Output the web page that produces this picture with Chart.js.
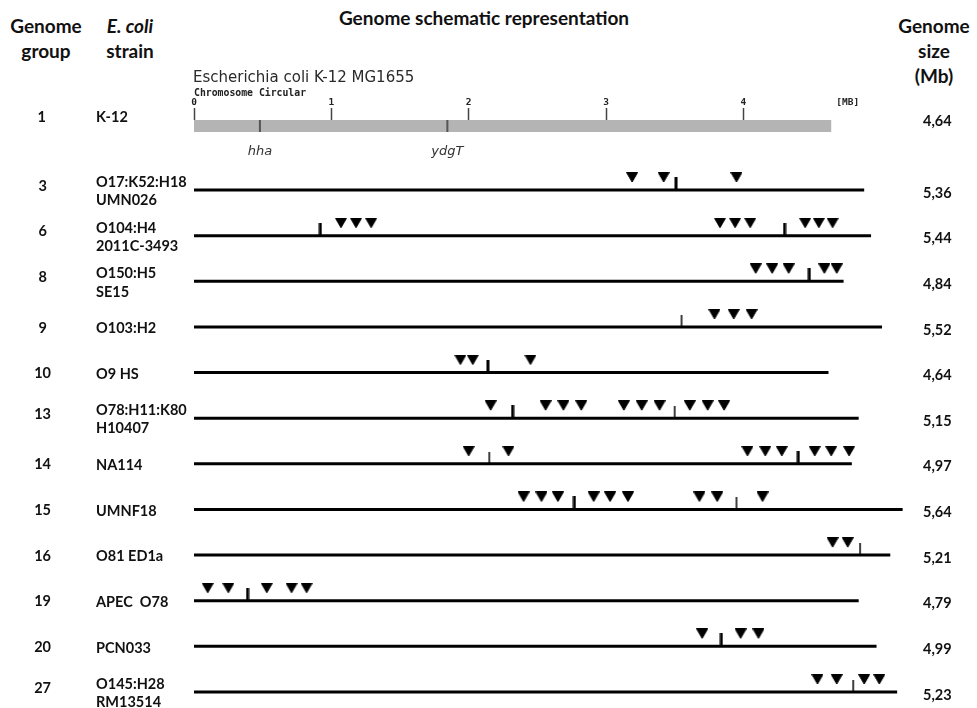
<!DOCTYPE html>
<html><head><meta charset="utf-8">
<script src="https://cdn.jsdelivr.net/npm/chart.js@4.4.1/dist/chart.umd.min.js"></script>
<style>
html,body{margin:0;padding:0;background:#fff;width:977px;height:708px;overflow:hidden;}
#wrap{position:relative;width:977px;height:708px;font-family:Lato,"Open Sans",sans-serif;color:#111;}
.h{position:absolute;font-weight:bold;font-size:19px;text-align:center;line-height:25px;white-space:nowrap;transform:translateX(-50%);}
canvas{position:absolute;left:0;}
</style></head><body>
<div id="wrap">
  <div class="h" style="left:46px;top:13px">Genome<br>group</div>
  <div class="h" style="left:130px;top:13px"><i>E. coli</i><br>strain</div>
  <div class="h" style="left:484px;top:5px">Genome schematic representation</div>
  <div class="h" style="left:934px;top:13px">Genome<br>size<br>(Mb)</div>
  <canvas id="main" width="977" height="708" style="top:0;width:977px;height:708px"></canvas>
  <canvas id="ruler" width="977" height="102" style="top:60px;width:977px;height:102px"></canvas>
</div>
<script>
// ---------- data ----------
const refGroup = '1';
const refStrain = 'K-12';
const refSize = '4,64';
const refLength = 4.64;
const refTitle = 'Escherichia coli K-12 MG1655';
const refSubtitle = 'Chromosome Circular';
const rulerTicks = [0, 1, 2, 3, 4];
const rulerUnit = '[MB]';
const rulerUnitPos = 4.76;
const geneNames = ['hha', 'ydgT'];
const genePos = [0.48, 1.845];

const groups = ['3', '6', '8', '9', '10', '13', '14', '15', '16', '19', '20', '27'];
const strains = [
  ['O17:K52:H18', 'UMN026'], ['O104:H4', '2011C-3493'], ['O150:H5', 'SE15'], 'O103:H2', 'O9 HS',
  ['O78:H11:K80', 'H10407'], 'NA114', 'UMNF18', 'O81 ED1a', 'APEC  O78', 'PCN033', ['O145:H28', 'RM13514']
];
const sizes = ['5,36', '5,44', '4,84', '5,52', '4,64', '5,15', '4,97', '5,64', '5,21', '4,79', '4,99', '5,23'];
const lineLengths = [4.88, 4.93, 4.73, 5.01, 4.62, 4.84, 4.79, 5.16, 5.07, 4.84, 4.97, 5.12];
const triangles = [
  [3.19, 3.42, 3.95],
  [1.07, 1.18, 1.29, 3.83, 3.94, 4.05, 4.45, 4.55, 4.65],
  [4.09, 4.21, 4.33, 4.59, 4.68],
  [3.79, 3.93, 4.06],
  [1.94, 2.03, 2.45],
  [2.16, 2.56, 2.69, 2.82, 3.13, 3.26, 3.39, 3.61, 3.74, 3.86],
  [2.00, 2.29, 4.03, 4.16, 4.28, 4.52, 4.64, 4.77],
  [2.40, 2.53, 2.65, 2.91, 3.03, 3.16, 3.68, 3.81, 4.14],
  [4.65, 4.76],
  [0.10, 0.25, 0.53, 0.71, 0.82],
  [3.70, 3.98, 4.11],
  [4.54, 4.68, 4.88, 4.99]
];
const thickTicks = [[3.51], [0.92, 4.30], [4.48], [], [2.14], [2.32], [4.40], [2.77], [], [0.39], [3.84], []];
const thinTicks = [[], [], [], [3.55], [], [3.50], [2.15], [3.95], [4.85], [], [], [4.80]];

// ---------- styling ----------
const X_MAX = 5.25;
const LABEL_FONT = {family: 'Lato', size: 14.5, weight: 'bold'};
const GROUP_W = 96, STRAIN_W = 98, SIZE_W = 62;

function sprite(w, h, draw) {
  const c = document.createElement('canvas');
  c.width = w; c.height = h;
  const g = c.getContext('2d');
  g.fillStyle = '#000';
  draw(g);
  return c;
}
const triSprite = sprite(12, 36, g => {
  g.beginPath(); g.moveTo(0.5, 0.5); g.lineTo(11.5, 0.5); g.lineTo(6, 10); g.closePath();
  g.lineJoin = 'round'; g.lineWidth = 1; g.strokeStyle = '#000'; g.fill(); g.stroke();
});
const thickSprite = sprite(4, 26, g => { g.fillRect(0.5, 0, 3, 13); });
const thinSprite = sprite(4, 24, g => { g.fillRect(1.25, 0, 1.5, 12); });

function pts(arr) { const out = []; arr.forEach((row, i) => row.forEach(x => out.push({x, y: i}))); return out; }

const mainDatasets = [];
lineLengths.forEach((len, i) => mainDatasets.push({
  data: [{x: 0, y: i}, {x: len, y: i}], showLine: true, borderColor: '#000', borderWidth: 3,
  borderCapStyle: 'butt', pointRadius: 0, clip: false, xAxisID: 'x', yAxisID: 'y'
}));
[[thickTicks, thickSprite], [thinTicks, thinSprite], [triangles, triSprite]].forEach(([arr, sp]) => mainDatasets.push({
  data: pts(arr), pointStyle: sp, pointRadius: 5, showLine: false, clip: false, xAxisID: 'x', yAxisID: 'y'
}));

const groupLabels = groups.map((g, i) => Array.isArray(strains[i]) ? [g, ''] : g);

function labelAxis(labels, pos, weight, width, tickOpts) {
  return {
    type: 'category', labels, position: pos, weight, offset: false,
    grid: {display: false, drawTicks: false}, border: {display: false},
    ticks: Object.assign({autoSkip: false, color: '#111', font: LABEL_FONT}, tickOpts),
    afterFit: s => { s.width = width; s.paddingTop = 0; s.paddingBottom = 0; }
  };
}

new Chart(document.getElementById('main'), {
  type: 'scatter',
  data: {datasets: mainDatasets},
  options: {
    responsive: false, animation: false, events: [],
    layout: {padding: {top: 190, bottom: 16, left: 0, right: 0}},
    plugins: {legend: {display: false}, tooltip: {enabled: false}},
    scales: {
      x: {type: 'linear', min: 0, max: X_MAX, display: false},
      y: {type: 'linear', min: 0, max: groups.length - 1, reverse: true, display: false},
      yGroup: labelAxis(groupLabels, 'left', 2, GROUP_W, {crossAlign: 'center', padding: 45, labelOffset: 1,
        font: Object.assign({}, LABEL_FONT, {lineHeight: 0.7})}),
      yStrain: labelAxis(strains, 'left', 1, STRAIN_W, {crossAlign: 'far', labelOffset: 1.5,
        font: Object.assign({}, LABEL_FONT, {lineHeight: 1.25})}),
      ySize: labelAxis(sizes, 'right', 1, SIZE_W, {crossAlign: 'near', padding: 8, labelOffset: 3})
    }
  }
});

// ---------- reference K-12 ruler ----------
const rulerTitlePlugin = {
  id: 'rulerTitle',
  afterDraw(chart) {
    const {ctx, chartArea} = chart;
    ctx.save();
    ctx.textBaseline = 'middle';
    ctx.fillStyle = '#2a2a2a';
    ctx.font = '15px "DejaVu Sans"';
    ctx.fillText(refTitle, chartArea.left - 1, chartArea.top - 42);
    ctx.fillStyle = '#222';
    ctx.font = 'bold 9.8px "DejaVu Sans Mono"';
    ctx.fillText(refSubtitle, chartArea.left, chartArea.top - 27);
    ctx.restore();
  }
};
const rulerTickValues = rulerTicks.concat([rulerUnitPos]);
new Chart(document.getElementById('ruler'), {
  type: 'scatter',
  data: {datasets: [
    // first dataset is painted last (on top of the bar)
    {data: genePos.map(x => ({x, y: refStrain})), pointStyle: 'line', rotation: 90, pointRadius: 6,
     pointBorderColor: '#555', pointBorderWidth: 2, borderColor: '#555', borderWidth: 2,
     clip: false, xAxisID: 'x', yAxisID: 'y'},
    {data: [{x: 0, y: refStrain}, {x: refLength, y: refStrain}], showLine: true, borderColor: '#b4b4b4',
     borderWidth: 12, borderCapStyle: 'butt', pointRadius: 0, clip: false, xAxisID: 'x', yAxisID: 'y'}
  ]},
  options: {
    responsive: false, animation: false, events: [],
    layout: {padding: 0},
    plugins: {legend: {display: false}, tooltip: {enabled: false}},
    scales: {
      x: {type: 'linear', position: 'top', min: 0, max: X_MAX,
        afterBuildTicks: s => { s.ticks = rulerTickValues.map(v => ({value: v})); },
        ticks: {autoSkip: false, maxRotation: 0, padding: 0, color: '#222',
          font: {family: 'DejaVu Sans Mono', size: 9.5, weight: 'bold'},
          callback: v => v === rulerUnitPos ? rulerUnit : String(v)},
        grid: {display: true, drawOnChartArea: false, tickLength: 12, tickWidth: 1.5,
          tickColor: c => (c.tick && c.tick.value === rulerUnitPos) ? 'rgba(0,0,0,0)' : '#444'},
        border: {display: false},
        afterFit: s => { s.height = 60; s.paddingLeft = 0; s.paddingRight = 0; }
      },
      xGenes: {type: 'linear', position: 'bottom', min: 0, max: X_MAX,
        afterBuildTicks: s => { s.ticks = genePos.map(v => ({value: v})); },
        ticks: {autoSkip: false, maxRotation: 0, padding: 12, color: '#333',
          font: {family: 'DejaVu Sans', size: 13, style: 'italic'},
          callback: (v, i) => geneNames[i]},
        grid: {display: false, drawTicks: false}, border: {display: false},
        afterFit: s => { s.height = 30; s.paddingLeft = 0; s.paddingRight = 0; }
      },
      y: {type: 'category', labels: [refStrain], offset: true, display: false},
      yGroup: labelAxis([refGroup], 'left', 2, GROUP_W, {crossAlign: 'center', padding: 50, labelOffset: -3}),
      yStrain: labelAxis([refStrain], 'left', 1, STRAIN_W, {crossAlign: 'far', labelOffset: -3}),
      ySize: labelAxis([refSize], 'right', 1, SIZE_W, {crossAlign: 'near', padding: 8, labelOffset: 1})
    }
  },
  plugins: [rulerTitlePlugin]
});
</script>
</body></html>
